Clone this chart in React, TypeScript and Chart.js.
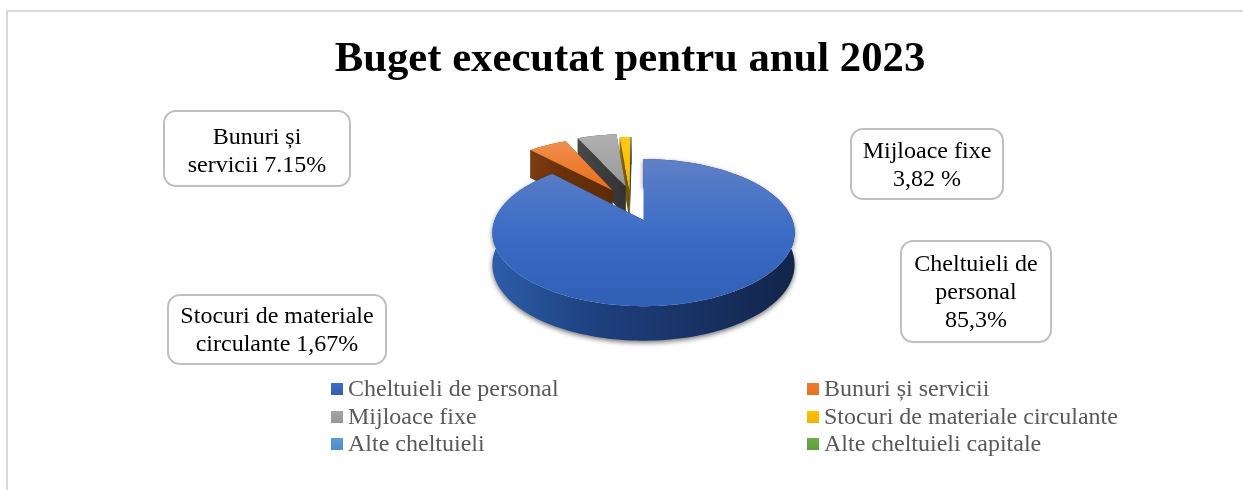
import React, { useEffect, useRef } from "react";
import { Chart, registerables } from "chart.js";

Chart.register(...registerables);

const titleText = "Buget executat pentru anul 2023";
const categories = [
  "Cheltuieli de personal",
  "Bunuri și servicii",
  "Mijloace fixe",
  "Stocuri de materiale circulante",
  "Alte cheltuieli",
  "Alte cheltuieli capitale",
];
const values = [87.94, 5.2, 5.3, 1.4, 0.1, 0.06];
const explode = [0, 0.504, 0.534, 0.463, 0.463, 0.463];
const leanDegrees = [0, 7.6, 1, -9.5, -12.4, -12.4];
const topLight = ["#5f80c6", "#f09050", "#b0b0b0", "#ffc91f", "#6ba6dc", "#7cb854"];
const topMid = ["#3b6cc6", "#ed7d31", "#a5a5a5", "#ffc000", "#5b9bd5", "#70ad47"];
const topDark = ["#2f60b4", "#e8701f", "#969696", "#f0b400", "#4d8cc8", "#5f9c3a"];
const sideLight = ["#2c5ea8", "#7d3c16", "#4a4a4a", "#997300", "#2e75b6", "#548235"];
const sideMid = ["#1e3f7e", "#6b3209", "#404040", "#7f6000", "#1f4e79", "#385723"];
const sideDark = ["#12254a", "#5c2b06", "#333333", "#6b5000", "#1f3864", "#2c451a"];

const callouts = [
  { box: [164, 111, 186, 75], lines: ["Bunuri și", "servicii 7.15%"], y: 138 },
  { box: [851, 129, 152, 70], lines: ["Mijloace fixe", "3,82 %"], y: 152 },
  { box: [901, 241, 150, 101], lines: ["Cheltuieli de", "personal", "85,3%"], y: 265 },
  { box: [168, 295, 218, 69], lines: ["Stocuri de materiale", "circulante 1,67%"], y: 317 },
];
const legendColumns = [331, 807];
const legendRows = [389, 417, 444];

const SERIF = '"Liberation Serif", "Times New Roman", serif';
const PIE_RADIUS = 120;
const PIE_SHIFT_X = 13.5;
const HALF_W = 148.9;
const HALF_H = 71.4;
const PERSPECTIVE = 0.17;

function pieProject(cx: number, cy: number, nx: number, ny: number, z: number) {
  const d = 1 - PERSPECTIVE * ny;
  return [cx + (HALF_W * nx) / d, cy + (HALF_H * ny) / d + z * (31.5 + 3 * ny)];
}

const pie3d = {
  id: "pie3d",
  beforeDatasetsDraw(chart: any) {
    const ctx = chart.ctx as CanvasRenderingContext2D;
    const arcs = chart.getDatasetMeta(0).data;
    for (let i = arcs.length - 1; i >= 0; i--) {
      const arc = arcs[i];
      const p = arc.getProps(["x", "y", "startAngle", "endAngle", "outerRadius"]);
      const R = p.outerRadius;
      const cx = p.x + PIE_SHIFT_X;
      const cy = p.y;
      const mid = (p.startAngle + p.endAngle) / 2 + (leanDegrees[i] * Math.PI) / 180;
      const off = arc.options.offset / R;
      const ox = Math.cos(mid) * off;
      const oy = Math.sin(mid) * off;
      const steps = Math.max(2, Math.ceil((p.endAngle - p.startAngle) / (Math.PI / 120)));
      const rim: number[][] = [];
      for (let s = 0; s <= steps; s++) {
        const a = p.startAngle + ((p.endAngle - p.startAngle) * s) / steps;
        rim.push([ox + Math.cos(a), oy + Math.sin(a)]);
      }
      const pt = (q: number[], z: number) => pieProject(cx, cy, q[0], q[1], z);
      const poly = (pts: number[][]) => {
        ctx.beginPath();
        pts.forEach((q, k) => (k ? ctx.lineTo(q[0], q[1]) : ctx.moveTo(q[0], q[1])));
        ctx.closePath();
      };
      const tops = rim.map((q) => pt(q, 0));
      const xs = tops.map((q) => q[0]);
      const ys = tops.map((q) => q[1]);
      const apex = [ox, oy];
      const a0 = pt(apex, 0);
      const a1 = pt(apex, 1);

      const x0 = Math.min(...xs, a0[0]);
      const x1 = Math.max(...xs, a0[0]);
      const y0 = Math.min(...ys, a0[1]);
      const y1 = Math.max(...ys, a0[1]);
      const side = ctx.createLinearGradient(x0, 0, x1, 0);
      side.addColorStop(0, sideLight[i]);
      side.addColorStop(0.35, sideMid[i]);
      side.addColorStop(1, sideDark[i]);

      // outer wall
      ctx.save();
      if (i === 0) {
        ctx.shadowColor = "rgba(0,0,0,0.55)";
        ctx.shadowBlur = 5;
        ctx.shadowOffsetY = 2;
      }
      poly([...tops, ...rim.map((q) => pt(q, 1)).reverse()]);
      ctx.fillStyle = side;
      ctx.fill();
      ctx.restore();

      // radial faces
      [rim[0], rim[rim.length - 1]].forEach((q) => {
        poly([a0, pt(q, 0), pt(q, 1), a1]);
        ctx.fillStyle = side;
        ctx.fill();
      });

      // top face
      const top = ctx.createLinearGradient(0, y0, 0, y1);
      top.addColorStop(0, topLight[i]);
      top.addColorStop(0.5, topMid[i]);
      top.addColorStop(1, topDark[i]);
      poly([a0, ...tops]);
      ctx.fillStyle = top;
      ctx.fill();
    }
    return false;
  },
};

const frame = {
  id: "frame",
  beforeDraw(chart: any) {
    const ctx = chart.ctx as CanvasRenderingContext2D;
    ctx.save();
    ctx.strokeStyle = "#d9d9d9";
    ctx.lineWidth = 2;
    ctx.beginPath();
    ctx.moveTo(7, 490);
    ctx.lineTo(7, 11);
    ctx.lineTo(1243, 11);
    ctx.stroke();
    ctx.restore();
  },
};

const annotations = {
  id: "annotations",
  afterDraw(chart: any) {
    const ctx = chart.ctx as CanvasRenderingContext2D;
    ctx.save();
    callouts.forEach((c) => {
      const [x, y, w, h] = c.box;
      ctx.beginPath();
      ctx.roundRect(x, y, w, h, 12);
      ctx.fillStyle = "#ffffff";
      ctx.fill();
      ctx.strokeStyle = "#bfbfbf";
      ctx.lineWidth = 2;
      ctx.stroke();
      ctx.fillStyle = "#000000";
      ctx.font = `24px ${SERIF}`;
      ctx.textAlign = "center";
      ctx.textBaseline = "middle";
      c.lines.forEach((line, k) => ctx.fillText(line, x + w / 2, c.y + k * 27.8));
    });
    categories.forEach((label, i) => {
      const mx = legendColumns[i % 2];
      const my = legendRows[Math.floor(i / 2)];
      const g = ctx.createLinearGradient(0, my - 6, 0, my + 6);
      g.addColorStop(0, topMid[i]);
      g.addColorStop(1, topDark[i]);
      ctx.fillStyle = g;
      ctx.fillRect(mx, my - 6, 12, 12);
      ctx.fillStyle = "#595959";
      ctx.font = `24px ${SERIF}`;
      ctx.textAlign = "left";
      ctx.textBaseline = "middle";
      ctx.fillText(label, mx + 17, my + 1);
    });
    ctx.restore();
  },
};

export default function App() {
  const ref = useRef<HTMLCanvasElement>(null);
  useEffect(() => {
    const chart = new Chart(ref.current!, {
      type: "pie",
      data: {
        labels: categories,
        datasets: [
          {
            data: values,
            backgroundColor: topMid,
            borderWidth: 0,
            offset: explode.map((e) => e * PIE_RADIUS),
          } as any,
        ],
      },
      options: {
        animation: false,
        responsive: false,
        radius: PIE_RADIUS,
        layout: { padding: { left: 17, top: 0, right: 0, bottom: 150 } },
        plugins: {
          legend: { display: false },
          tooltip: { enabled: false },
          title: {
            display: true,
            text: titleText,
            color: "#000000",
            font: { family: SERIF, size: 42.7, weight: "bold" },
            padding: { top: 34, bottom: 15 },
          },
        },
      } as any,
      plugins: [frame, pie3d, annotations],
    });
    return () => chart.destroy();
  }, []);
  return (
    <div style={{ position: "absolute", left: 0, top: 0, width: 1243, height: 490, overflow: "hidden", background: "#fff" }}>
      <canvas ref={ref} width={1243} height={490} style={{ display: "block" }} />
    </div>
  );
}
